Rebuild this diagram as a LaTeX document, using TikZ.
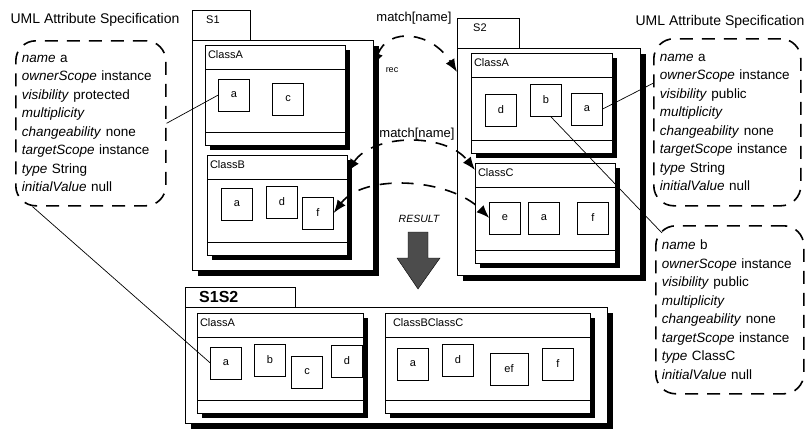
\documentclass[tikz,border=0pt]{standalone}
\usepackage{fontspec}
\setmainfont{Liberation Sans}
\usetikzlibrary{arrows.meta,positioning,shadows}
\hyphenpenalty=10000

\begin{document}
\begin{tikzpicture}[
  x=1pt, y=-1pt, >=Latex,
  pkg/.style={draw, fill=white, anchor=north west,
              drop shadow={shadow xshift=6pt, shadow yshift=-6pt, fill=black, opacity=1}},
  tab/.style={draw, fill=white, anchor=north west, align=left, font=\fontsize{11}{13}\selectfont},
  cls/.style={draw, fill=white, anchor=north west, minimum height=100pt,
              drop shadow={shadow xshift=5pt, shadow yshift=-5pt, fill=black, opacity=1},
              path picture={
                \draw ([yshift=-24pt]path picture bounding box.north west) -- ([yshift=-24pt]path picture bounding box.north east);
                \draw ([yshift=13pt]path picture bounding box.south west) -- ([yshift=13pt]path picture bounding box.south east);}},
  hdr/.style={font=\fontsize{11}{13}\selectfont, inner sep=0pt, outer sep=0pt},
  attr/.style={draw, fill=white, minimum width=31pt, minimum height=32pt, font=\fontsize{11}{13}\selectfont},
  spec/.style={draw, dash pattern=on 13pt off 9pt, line width=1.6pt, rounded corners=20pt,
               anchor=north west, align=left, inner xsep=6pt, font=\fontsize{13.5}{18.5}\selectfont},
  title/.style={font=\fontsize{14}{16}\selectfont},
  tag/.style={font=\fontsize{13}{15}\selectfont},
  match/.style={{Latex[length=13pt,width=10pt]}-{Latex[length=13pt,width=10pt]}, dash pattern=on 12pt off 10pt, line width=1.6pt},
  link/.style={line width=0.7pt}
]
\useasboundingbox (0,0) rectangle (807,434);

% packages
\node[tab, minimum width=58pt, minimum height=30pt, text depth=12pt, text width=30pt, inner xsep=14pt] (s1tab) at (192,10) {S1};
\node[pkg, minimum width=181pt, minimum height=230pt] (s1) at (192,40) {};
\node[tab, minimum width=58pt, minimum height=30pt, text depth=12pt, text width=30pt, inner xsep=16pt] (s2tab) at (457,18) {S2};
\node[pkg, minimum width=183pt, minimum height=227pt] (s2) at (457,48) {};
\node[tab, minimum width=110pt, minimum height=20pt, text width=82pt, inner xsep=14pt,
      font=\fontsize{16}{18}\selectfont\bfseries] (s12tab) at (185,287) {S1S2};
\node[pkg, minimum width=422pt, minimum height=116pt] (s12) at (185,307) {};

% classes
\node[cls, minimum width=140pt] (s1A) at (205,45) {};
\node[hdr, below right=6pt and 3pt of s1A.north west] (s1Ahdr) {ClassA};
\node[cls, minimum width=140pt] (s1B) at (207,155) {};
\node[hdr, below right=6pt and 3pt of s1B.north west] (s1Bhdr) {ClassB};
\node[cls, minimum width=141pt] (s2A) at (471,53) {};
\node[hdr, below right=6pt and 3pt of s2A.north west] (s2Ahdr) {ClassA};
\node[cls, minimum width=140pt] (s2C) at (475,163) {};
\node[hdr, below right=6pt and 3pt of s2C.north west] (s2Chdr) {ClassC};
\node[cls, minimum width=166pt] (s12A) at (197,313) {};
\node[hdr, below right=6pt and 3pt of s12A.north west] (s12Ahdr) {ClassA};
\node[cls, minimum width=205pt] (s12B) at (385,313) {};
\node[hdr, below right=6pt and 8pt of s12B.north west] (s12Bhdr) {ClassBClassC};

% attributes
\node[attr] (s1Aa) at (234,95) {a};
\node[attr] (s1Ac) at (288,99) {c};
\node[attr] (s1Ba) at (237,204) {a};
\node[attr] (s1Bd) at (282,202) {d};
\node[attr] (s1Bf) at (318,213) {f};
\node[attr] (s2Ad) at (501,110) {d};
\node[attr] (s2Ab) at (546,100) {b};
\node[attr] (s2Aa) at (587,109) {a};
\node[attr] (s2Ce) at (505,218) {e};
\node[attr] (s2Ca) at (544,218) {a};
\node[attr] (s2Cf) at (593,218) {f};
\node[attr] (s12Aa) at (226,363) {a};
\node[attr] (s12Ab) at (270,360) {b};
\node[attr] (s12Ac) at (307,372) {c};
\node[attr] (s12Ad) at (347,361) {d};
\node[attr] (s12Ba) at (413,364) {a};
\node[attr] (s12Bd) at (458,360) {d};
\node[attr, minimum width=38pt] (s12Bef) at (509,369) {ef};
\node[attr] (s12Bf) at (558,364) {f};

% attribute specifications
\node[title] (ltitle) at (95,20) {UML Attribute Specification};
\node[spec, minimum width=150pt, minimum height=165pt, text width=138pt] (lspec) at (15,40)
  {\textit{name} a\\ \textit{ownerScope} instance\\ \textit{visibility} protected\\ \textit{multiplicity}\\
   \textit{changeability} none\\ \textit{targetScope} instance\\ \textit{type} String\\ \textit{initialValue} null};
\node[title] (rtitle) at (720,22) {UML Attribute Specification};
\node[spec, minimum width=147pt, minimum height=167pt, text width=135pt] (rspec) at (653,38)
  {\textit{name} a\\ \textit{ownerScope} instance\\ \textit{visibility} public\\ \textit{multiplicity}\\
   \textit{changeability} none\\ \textit{targetScope} instance\\ \textit{type} String\\ \textit{initialValue} null};
\node[spec, minimum width=148pt, minimum height=168pt, text width=136pt] (bspec) at (655,225)
  {\textit{name} b\\ \textit{ownerScope} instance\\ \textit{visibility} public\\ \textit{multiplicity}\\
   \textit{changeability} none\\ \textit{targetScope} instance\\ \textit{type} ClassC\\ \textit{initialValue} null};

% matches
\node[tag] (m1) at (414,18) {match[name]};
\node[font=\fontsize{9}{11}\selectfont] (rec) at (392,70) {rec};
\node[tag] (m2) at (417,134) {match[name]};
\draw[match] ([yshift=-26pt]s1.north east) .. controls +(15,-40) and +(-25,-40) .. ([yshift=-24pt]s2.north west);
\draw[match] ([yshift=-17pt]s1B.north east) .. controls +(25,-38) and +(-30,-38) .. ([yshift=-7pt]s2C.north west);
\draw[match] (s1Bf.east) .. controls +(30,-40) and +(-40,-40) .. (s2Ce.west);

% result
\node[font=\fontsize{10.5}{12}\selectfont\itshape] (res) at (419,219) {RESULT};
\draw[fill=black!70] (408,232) -- (428,232) -- (428,258) -- (440,258) -- (418,289) -- (397,258) -- (408,258) -- cycle;

% links
\draw[link] (lspec.east) -- (s1Aa.west);
\draw[link] (s2Aa.east) -- ([yshift=39pt]rspec.west);
\draw[link] (s2Ab.-75) -- ([xshift=7pt,yshift=-8pt]bspec.north west);
\draw[link] (lspec.-125) -- (s12Aa.west);
\end{tikzpicture}
\end{document}
